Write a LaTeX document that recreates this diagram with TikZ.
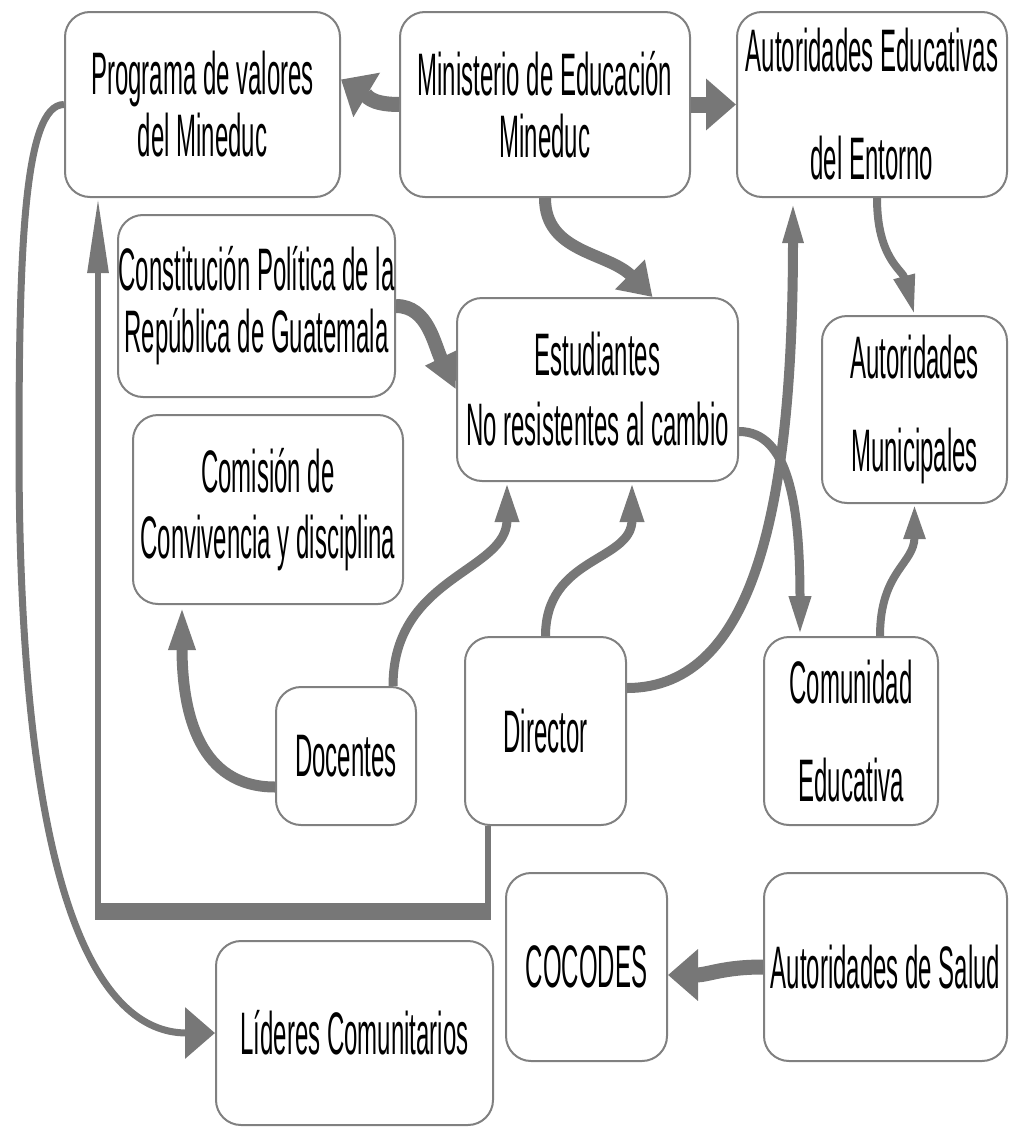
\documentclass[tikz,border=0pt]{standalone}
\usepackage{fontspec}
\setmainfont{Liberation Sans}[FakeStretch=0.4]
\usetikzlibrary{arrows.meta,calc}
\definecolor{flecha}{RGB}{119,119,119}
\definecolor{borde}{RGB}{128,128,128}
\tikzset{
  caja/.style={draw=borde, line width=2pt, rounded corners=25pt, fill=white,
    align=center, inner sep=0pt, font=\fontsize{60}{62}\selectfont},
  flec/.style={draw=flecha, line width=#1},
  punta/.style 2 args={-{Triangle[length=#1,width=#2]}},
}
\begin{document}
\begin{tikzpicture}[x=1pt,y=-1pt]
\useasboundingbox (0,0) rectangle (1009,1127);
% cajas
\node [caja, minimum width=275pt, minimum height=185pt] (prog) at (202.5,104.5) {Programa de valores\\del Mineduc};
\node [caja, minimum width=290pt, minimum height=185pt] (mineduc) at (545,104.5) {Ministerio de Educación\\Mineduc};
\node [caja, minimum width=270pt, minimum height=185pt] (autedu) at (872,104.5) {Autoridades Educativas\\[46pt]del Entorno};
\node [caja, minimum width=277pt, minimum height=182pt] (const) at (256.5,306) {Constitución Política de la\\República de Guatemala};
\node [caja, minimum width=281pt, minimum height=183pt] (estud) at (597.5,389.5) {Estudiantes\\[8pt]No resistentes al cambio};
\node [caja, minimum width=185pt, minimum height=187pt] (munic) at (914.5,409.5) {Autoridades\\[31pt]Municipales};
\node [caja, minimum width=270pt, minimum height=189pt] (comis) at (268,509.5) {Comisión de\\[4pt]Convivencia y disciplina};
\node [caja, minimum width=140pt, minimum height=138pt] (docen) at (346,756) {Docentes};
\node [caja, minimum width=161pt, minimum height=188pt] (direc) at (545.5,731) {Director};
\node [caja, minimum width=174pt, minimum height=188pt] (comun) at (851,731) {Comunidad\\[36pt]Educativa};
\node [caja, minimum width=161pt, minimum height=188pt] (cocodes) at (586.5,967) {COCODES};
\node [caja, minimum width=243pt, minimum height=188pt] (salud) at (885.5,967) {Autoridades de Salud};
\node [caja, minimum width=277pt, minimum height=184pt] (lider) at (354.5,1033) {Líderes Comunitarios};
% flechas del ministerio
\draw [flec=15pt, punta={30pt}{50pt}] (mineduc.west) .. controls +(-30,0) and +(25,15) .. ($(prog.east)+(0,-25)$);
\draw [flec=16pt, punta={30pt}{50pt}] (mineduc.east) -- (autedu.west);
\draw [flec=12pt, punta={32pt}{40pt}] (mineduc.south) .. controls +(0,55) and +(-45,-45) .. ($(estud.north)+(55,0)$);
\draw [flec=14pt, punta={35pt}{32pt}] (const.east) .. controls +(32,0) and +(-22,-45) .. (estud.west);
\draw [flec=8pt, punta={40pt}{20pt}] ($(autedu.south)+(5,0)$) .. controls +(0,60) and +(-12,-45) .. (munic.north);
% estudiantes y director
\draw [flec=9pt, punta={40pt}{20pt}] ($(estud.east)+(0,42)$) .. controls +(50,0) and +(0,-130) .. ($(comun.north)+(-51,0)$);
\draw [flec=10pt, punta={45pt}{18pt}] ($(direc.east)+(0,-43)$) .. controls +(130,0) and +(0,300) .. ($(autedu.south)+(-79,0)$);
\draw [flec=9pt, punta={40pt}{22pt}] ($(docen.north)+(47,0)$) .. controls +(0,-110) and +(0,90) .. ($(estud.south)+(-90.5,0)$);
\draw [flec=9pt, punta={40pt}{22pt}] (direc.north) .. controls +(0,-80) and +(0,80) .. ($(estud.south)+(34.5,0)$);
\draw [flec=11pt, punta={45pt}{24pt}] ($(docen.west)+(0,31)$) .. controls +(-75,0) and +(0,110) .. ($(comis.south)+(-86,0)$);
\draw [flec=8pt, punta={35pt}{20pt}] ($(comun.north)+(29,0)$) .. controls +(0,-65) and +(0,60) .. (munic.south);
% director -> programa
\coordinate (bandaD) at ($(direc.south west)+(24,85.5)$);
\coordinate (bandaI) at ($(prog.south west)+(34,713.5)$);
\draw [flec=6pt, punta={75pt}{20pt}] ($(direc.south west)+(24,0)$) -- (bandaD) -- (bandaI) -- ($(prog.south west)+(34,0)$);
\draw [flec=17pt] ($(bandaI)+(-3,0)$) -- ($(bandaD)+(3,0)$);
% programa -> lideres
\draw [flec=7pt, punta={30pt}{50pt}] (prog.west) .. controls +(-40,0) and +(0,-200) .. ($(prog.west)+(-45,345)$) .. controls +(0,450) and +(-116,0) .. (lider.west);
% salud -> cocodes
\draw [flec=15pt, punta={30pt}{50pt}] (salud.west) .. controls +(-40,0) and +(40,0) .. ($(cocodes.east)+(0,8)$);
\end{tikzpicture}
\end{document}
